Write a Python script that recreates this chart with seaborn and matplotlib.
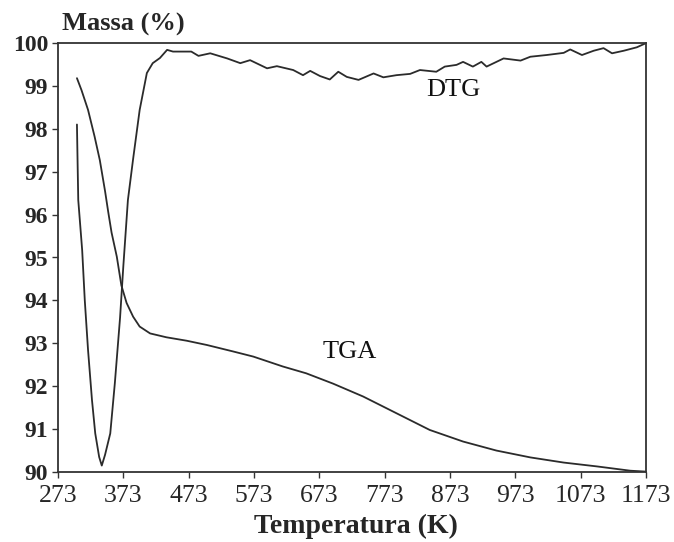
import numpy as np
import pandas as pd
import matplotlib
matplotlib.use("Agg")
import matplotlib.pyplot as plt
import seaborn as sns

# TGA curve (temperature K, mass %)
tga_T = [302, 309, 319, 329, 337, 345, 350, 355, 363, 370, 378, 388, 398, 414, 439, 470,
         501, 541, 572, 617, 653, 694, 740, 791, 842, 893, 944, 996, 1047, 1098, 1149, 1172]
tga_m = [99.18, 98.90, 98.44, 97.82, 97.27, 96.55, 96.05, 95.58, 95.02, 94.35, 93.94, 93.62,
         93.39, 93.23, 93.14, 93.06, 92.96, 92.81, 92.69, 92.46, 92.30, 92.06, 91.76, 91.37,
         90.98, 90.71, 90.50, 90.34, 90.22, 90.13, 90.03, 90.01]

# DTG curve (temperature K, plotted on same scale)
dtg_T = [302, 303, 304, 310, 314, 319, 325, 330, 336, 340, 345, 353, 360, 368, 373, 380, 388,
         398, 409, 418, 429, 440, 449, 477, 488, 506, 532, 552, 567, 593, 608, 633, 648, 659,
         674, 689, 702, 715, 733, 756, 771, 791, 812, 827, 852, 865, 883, 893, 908, 921, 929,
         955, 981, 996, 1021, 1047, 1057, 1075, 1093, 1108, 1121, 1139, 1159, 1172]
dtg_v = [98.10, 97.20, 96.34, 95.17, 94.00, 92.84, 91.68, 90.90, 90.35, 90.15, 90.40, 90.90,
         92.07, 93.60, 94.80, 96.34, 97.30, 98.44, 99.30, 99.53, 99.65, 99.84, 99.80, 99.80,
         99.70, 99.76, 99.64, 99.53, 99.60, 99.41, 99.46, 99.37, 99.25, 99.35, 99.23, 99.15,
         99.33, 99.21, 99.14, 99.29, 99.20, 99.25, 99.28, 99.37, 99.33, 99.45, 99.49, 99.56,
         99.45, 99.56, 99.45, 99.64, 99.59, 99.68, 99.72, 99.77, 99.85, 99.72, 99.82, 99.88,
         99.76, 99.82, 99.90, 99.99]

x_ticks = [273, 373, 473, 573, 673, 773, 873, 973, 1073, 1173]
y_ticks = [90, 91, 92, 93, 94, 95, 96, 97, 98, 99, 100]

sns.set_style("ticks")
plt.rcParams["font.family"] = ["Liberation Serif", "DejaVu Serif"]

fig = plt.figure(figsize=(6.74, 5.42), dpi=100)
ax = fig.add_axes([58/674, 1-472/542, (646-58)/674, (472-43)/542])

tga = pd.DataFrame({"T": tga_T, "m": tga_m})
dtg = pd.DataFrame({"T": dtg_T, "m": dtg_v})
sns.lineplot(data=tga, x="T", y="m", ax=ax, color="#2b2b2b", lw=1.3, sort=False)
sns.lineplot(data=dtg, x="T", y="m", ax=ax, color="#2b2b2b", lw=1.3, sort=False)

ax.set_xlim(273, 1173)
ax.set_ylim(90, 100)
ax.set_xticks(x_ticks)
ax.set_yticks(y_ticks)
ax.set_xticklabels([str(v) for v in x_ticks], fontsize=18.5)
ax.set_yticklabels([str(v) for v in y_ticks], fontsize=17, fontweight="bold")
ax.tick_params(axis="x", direction="out", length=4, width=1, color="#333333", pad=5)
ax.tick_params(axis="y", direction="out", length=4, width=1, color="#333333", pad=3)
for s in ax.spines.values():
    s.set_color("#333333")
    s.set_linewidth(1.3)

ax.set_xlabel("")
ax.set_ylabel("")
fig.text(356/674, 1-533/542, "Temperatura (K)", fontsize=20, fontweight="bold",
         ha="center", va="baseline")
fig.text(62/674, 1-31/542, "Massa (%)", fontsize=19, fontweight="bold", ha="left", va="baseline")

ax.text(878, 98.9, "DTG", fontsize=19, ha="center", va="center", color="#111111")
ax.text(720, 92.8, "TGA", fontsize=19, ha="center", va="center", color="#111111")

fig.savefig("out.png", dpi=100)
